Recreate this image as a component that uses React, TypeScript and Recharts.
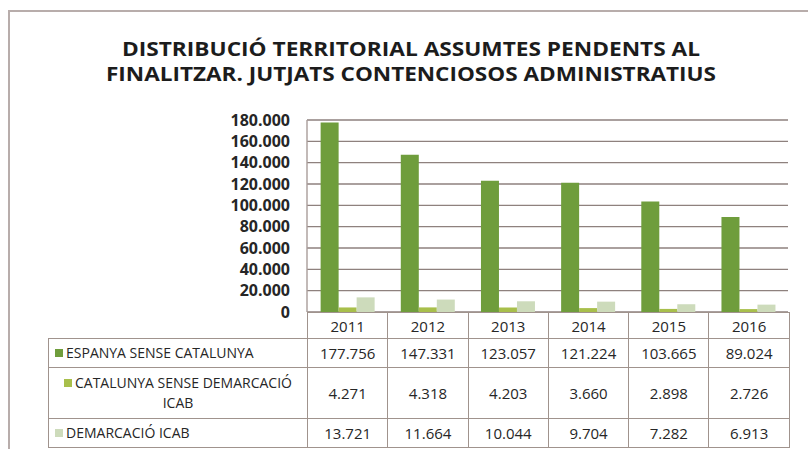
import React from 'react';
import { BarChart, Bar, XAxis, YAxis, CartesianGrid } from 'recharts';

const years = ['2011', '2012', '2013', '2014', '2015', '2016'];
const espanya = [177756, 147331, 123057, 121224, 103665, 89024];
const catalunya = [4271, 4318, 4203, 3660, 2898, 2726];
const icab = [13721, 11664, 10044, 9704, 7282, 6913];
const seriesNames = ['ESPANYA SENSE CATALUNYA', 'CATALUNYA SENSE DEMARCACIÓ ICAB', 'DEMARCACIÓ ICAB'];
const yTicks = [0, 20000, 40000, 60000, 80000, 100000, 120000, 140000, 160000, 180000];
const titleLines = [
  'DISTRIBUCIÓ TERRITORIAL ASSUMTES PENDENTS AL',
  'FINALITZAR. JUTJATS CONTENCIOSOS ADMINISTRATIUS',
];

const colors = ['#6f9d3c', '#a8bf4b', '#cddbbb'];
const gridColor = '#8e817e';
const tableBorder = '#a0938d';
const font = '"Open Sans", sans-serif';

const data = years.map((y, i) => ({
  year: y,
  espanya: espanya[i],
  catalunya: catalunya[i],
  icab: icab[i],
}));
const rows = [espanya, catalunya, icab];

const fmt = (n: number) => String(n).replace(/\B(?=(\d{3})+(?!\d))/g, '.');

const cell: React.CSSProperties = {
  border: `1px solid ${tableBorder}`,
  textAlign: 'center',
  padding: 0,
  fontSize: 15,
  color: '#262626',
};

function Key({ color }: { color: string }) {
  return (
    <span style={{ display: 'inline-block', width: 8, height: 8, background: color, marginRight: 3, verticalAlign: 1 }} />
  );
}

export default function App() {
  return (
    <div style={{ position: 'absolute', left: 0, top: 0, width: 808, height: 449, background: '#fff', fontFamily: font, overflow: 'hidden' }}>
      <div style={{ position: 'absolute', left: 8, top: 10, width: 810, height: 450, borderTop: '2px solid #b8adab', borderLeft: '2px solid #b8adab' }} />

      <svg width={808} height={100} style={{ position: 'absolute', left: 0, top: 0 }}>
        <text x={411} y={56} textAnchor="middle" fontSize={20} fontWeight="bold" fill="#1c1c1c" fontFamily={font}
          textLength={578} lengthAdjust="spacingAndGlyphs">{titleLines[0]}</text>
        <text x={411} y={81} textAnchor="middle" fontSize={20} fontWeight="bold" fill="#1c1c1c" fontFamily={font}
          textLength={610} lengthAdjust="spacingAndGlyphs">{titleLines[1]}</text>
      </svg>

      <div style={{ position: 'absolute', left: 0, top: 0 }}>
        <BarChart width={808} height={449} data={data} margin={{ top: 120, right: 20, bottom: 137, left: 0 }}
          barCategoryGap="17%" barGap={0}>
          <CartesianGrid vertical={false} stroke={gridColor} strokeWidth={1.4} />
          <XAxis dataKey="year" hide />
          <YAxis width={307} domain={[0, 180000]} ticks={yTicks} interval={0} tickFormatter={fmt}
            tickLine={false} tickSize={0} tickMargin={17} axisLine={{ stroke: '#a99d9a', strokeWidth: 1.4 }}
            tick={{ fontSize: 16, fontWeight: 'bold', fill: '#262626', fontFamily: font }} />
          <Bar dataKey="espanya" fill={colors[0]} isAnimationActive={false} />
          <Bar dataKey="catalunya" fill={colors[1]} isAnimationActive={false} />
          <Bar dataKey="icab" fill={colors[2]} isAnimationActive={false} />
        </BarChart>
      </div>

      <table style={{ position: 'absolute', left: 48, top: 312, borderCollapse: 'collapse', tableLayout: 'fixed', width: 741, fontFamily: font }}>
        <colgroup>
          <col style={{ width: 259 }} />
          {years.map((y) => <col key={y} style={{ width: 80.3 }} />)}
        </colgroup>
        <tbody>
          <tr style={{ height: 26 }}>
            <td style={{ padding: 0, border: 'none' }} />
            {years.map((y) => <td key={y} style={cell}>{y}</td>)}
          </tr>
          {rows.map((vals, r) => (
            <tr key={r} style={{ height: r === 1 ? 51 : 29 }}>
              <td style={{ ...cell, fontSize: 14, textAlign: r === 1 ? 'center' : 'left', paddingLeft: 6, paddingRight: 6, lineHeight: '20px' }}>
                <Key color={colors[r]} />{seriesNames[r]}
              </td>
              {vals.map((v, i) => <td key={i} style={cell}>{fmt(v)}</td>)}
            </tr>
          ))}
        </tbody>
      </table>
    </div>
  );
}
